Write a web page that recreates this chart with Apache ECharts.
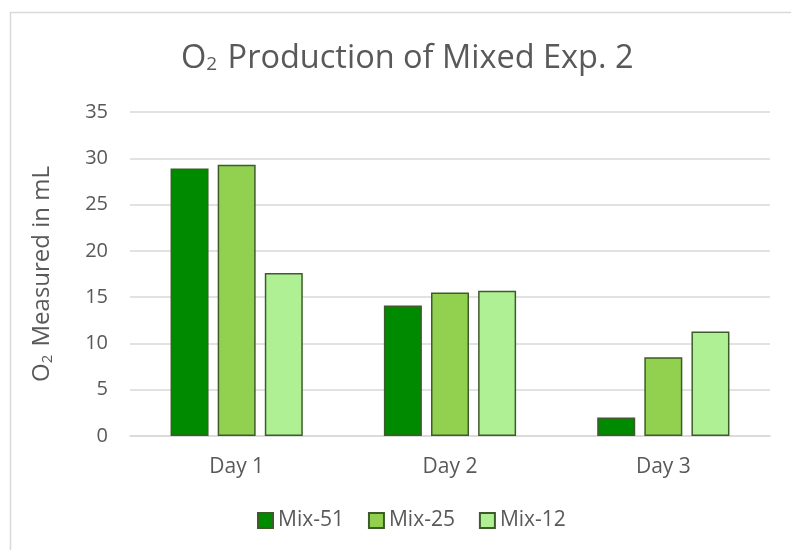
<!DOCTYPE html>
<html>
<head>
<meta charset="utf-8">
<script src="https://cdn.jsdelivr.net/npm/echarts@6/dist/echarts.min.js"></script>
<style>
  html, body { margin: 0; padding: 0; background: #ffffff; }
  #chart { width: 791px; height: 550px; }
</style>
</head>
<body>
<div id="chart"></div>
<script>
// Daily oxygen readings for the three mixtures
var days = ['Day 1', 'Day 2', 'Day 3'];
var mix51 = [28.9, 14.1, 2.0];
var mix25 = [29.3, 15.5, 8.5];
var mix12 = [17.6, 15.7, 11.3];
var seriesNames = ['Mix-51', 'Mix-25', 'Mix-12'];
var yTicks = { min: 0, max: 35, interval: 5 };

var fontFamily = '"Open Sans", "Liberation Sans", sans-serif';
var textGray = '#595959';
var edge = '#3d5c2a';

function barSeries(name, values, color) {
  return {
    name: name,
    type: 'bar',
    data: values,
    barWidth: 38,
    barGap: '24%',
    itemStyle: { color: color, borderColor: edge, borderWidth: 1.5 }
  };
}

var chart = echarts.init(document.getElementById('chart'), null, { renderer: 'canvas' });
chart.setOption({
  backgroundColor: '#ffffff',
  animation: false,
  graphic: [{
    type: 'rect',
    shape: { x: 10.5, y: 12.5, width: 800, height: 560 },
    style: { fill: 'none', stroke: '#d9d9d9', lineWidth: 1.5 },
    silent: true
  }],
  title: {
    text: '{b|O}{s|2}{b| Production of Mixed Exp. 2}',
    left: 176,
    top: 37,
    textStyle: {
      fontWeight: 'normal',
      rich: {
        b: { fontFamily: fontFamily, fontSize: 32.5, fontWeight: 'normal', color: textGray },
        s: { fontFamily: fontFamily, fontSize: 19, fontWeight: 'normal', color: textGray, padding: [12, 2, 0, 0] }
      }
    }
  },
  legend: {
    data: seriesNames,
    bottom: 14,
    left: 252,
    icon: 'rect',
    itemWidth: 15,
    itemHeight: 15,
    itemGap: 24,
    textStyle: { fontFamily: fontFamily, fontSize: 21, color: textGray }
  },
  grid: { left: 130, right: 21, top: 112, bottom: 114, containLabel: false },
  xAxis: {
    type: 'category',
    data: days,
    axisLine: { lineStyle: { color: '#d9d9d9', width: 1.5 } },
    axisTick: { show: false },
    axisLabel: { fontFamily: fontFamily, fontSize: 21, color: textGray, margin: 21 }
  },
  yAxis: {
    type: 'value',
    min: yTicks.min,
    max: yTicks.max,
    interval: yTicks.interval,
    name: '{b|O}{s|2}{b| Measured in mL}',
    nameLocation: 'middle',
    nameGap: 75,
    nameTextStyle: {
      rich: {
        b: { fontFamily: fontFamily, fontSize: 24, color: textGray },
        s: { fontFamily: fontFamily, fontSize: 15, color: textGray, padding: [10, 2, 0, 0] }
      }
    },
    axisLine: { show: false },
    axisTick: { show: false },
    axisLabel: { fontFamily: fontFamily, fontSize: 20, color: textGray, margin: 22 },
    splitLine: { lineStyle: { color: '#d9d9d9', width: 1.5 } }
  },
  series: [
    barSeries(seriesNames[0], mix51, '#008a00'),
    barSeries(seriesNames[1], mix25, '#92d050'),
    barSeries(seriesNames[2], mix12, '#b0f094')
  ]
});
</script>
</body>
</html>
